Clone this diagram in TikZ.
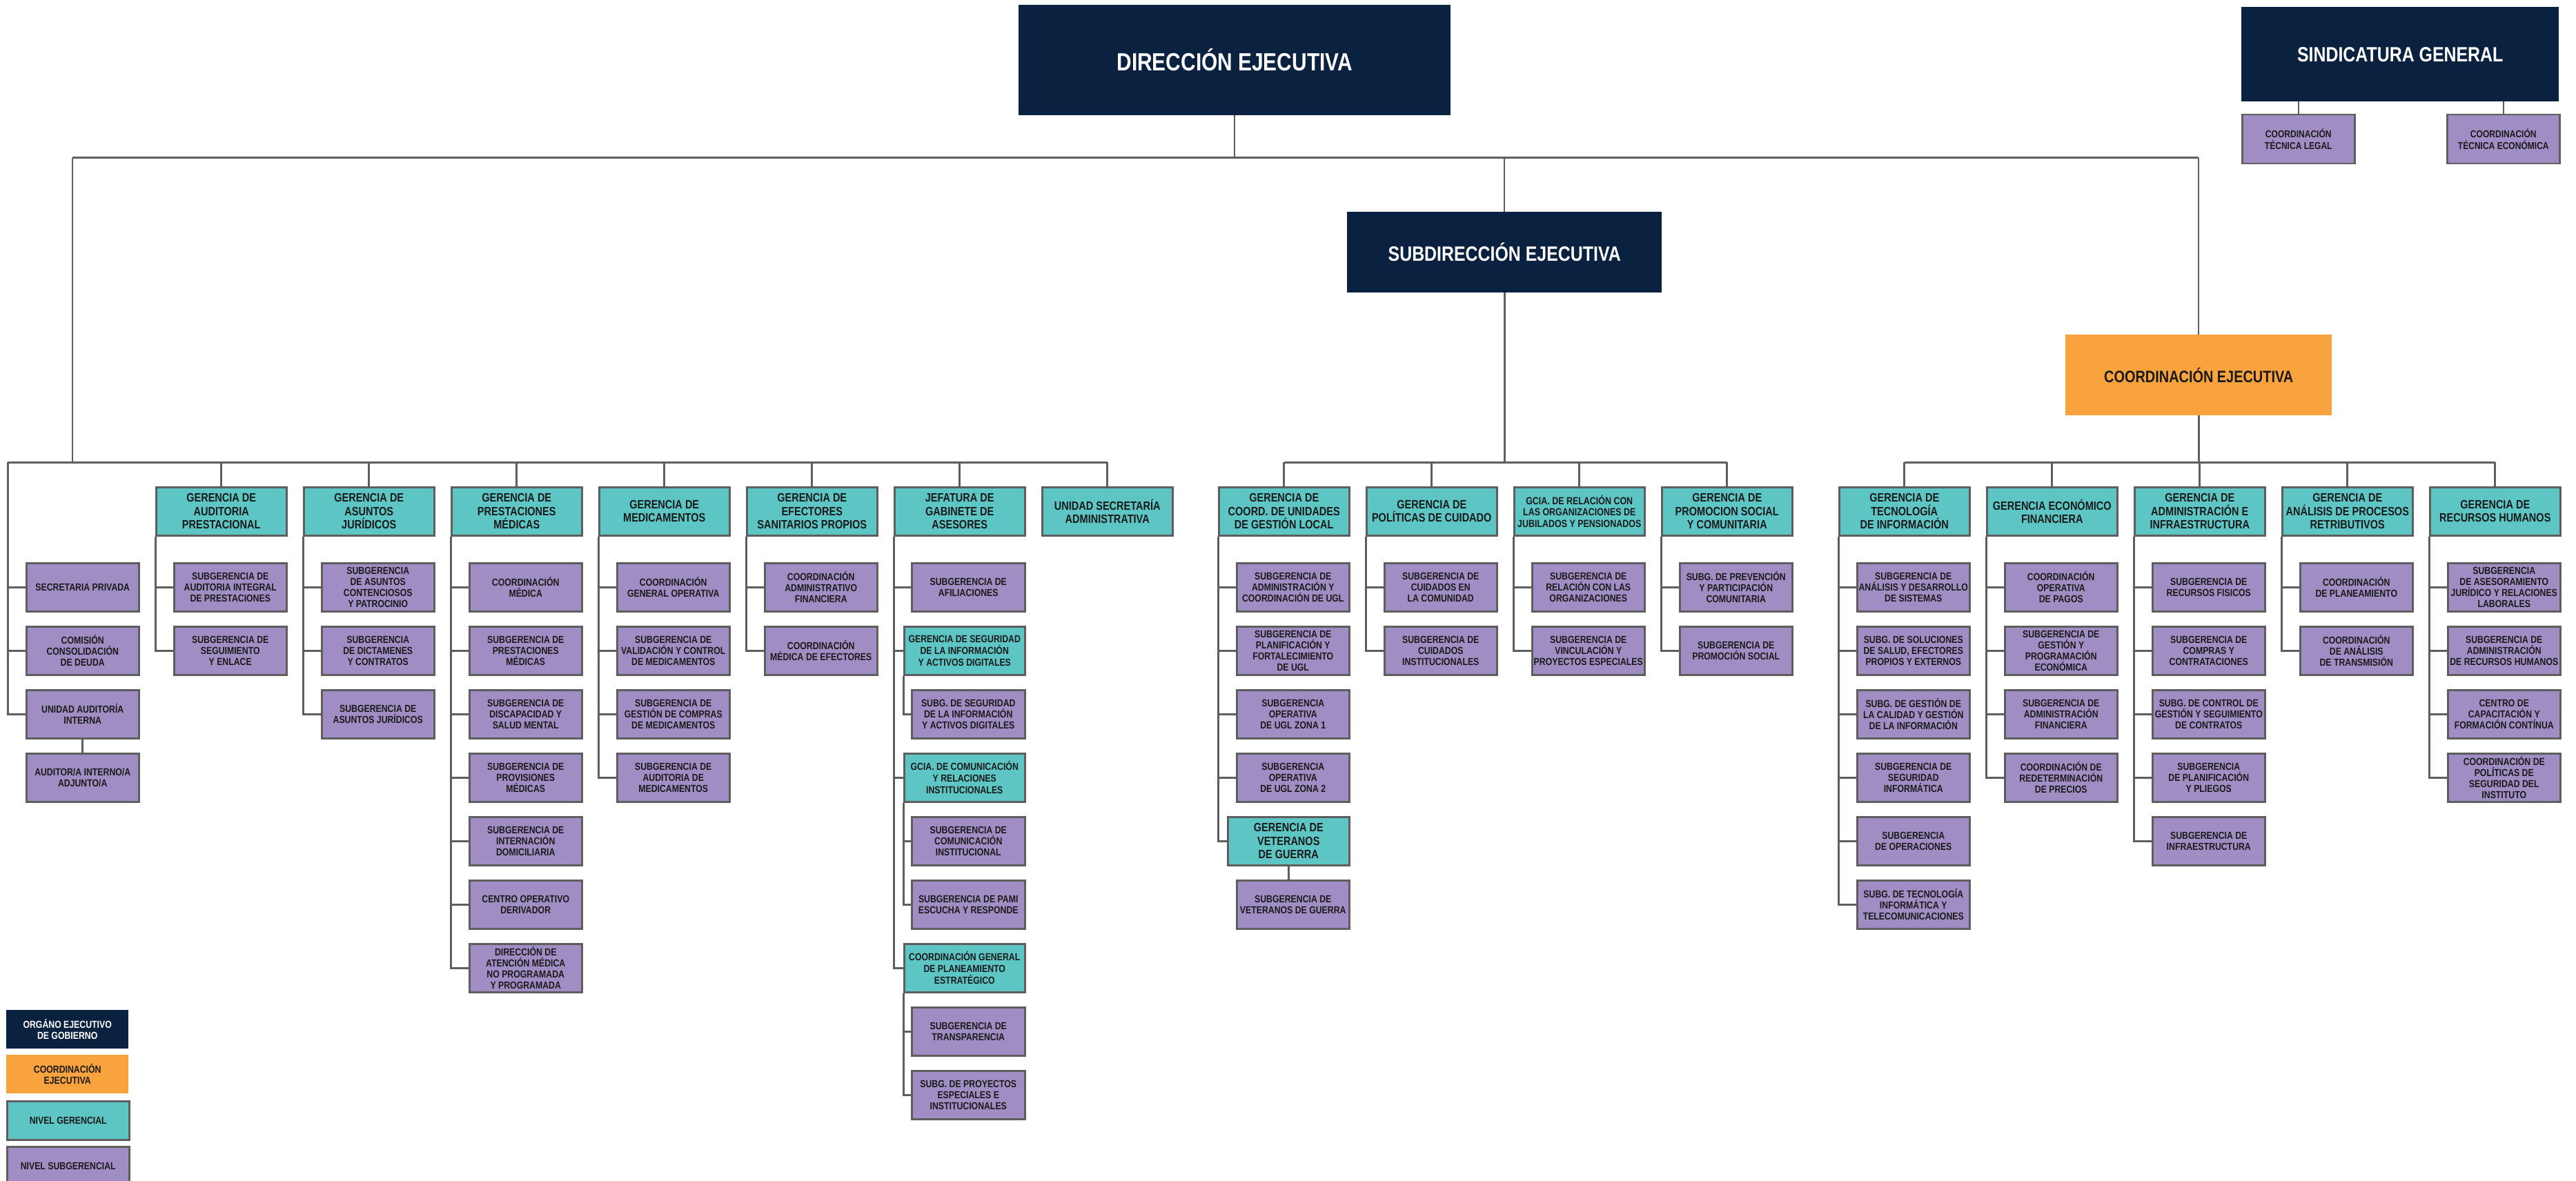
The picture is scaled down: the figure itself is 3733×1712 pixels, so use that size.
\documentclass[tikz,border=0pt]{standalone}
\usepackage{fontspec}
\setmainfont{Liberation Sans}[FakeStretch=0.83]
\definecolor{navy}{HTML}{0B2140}
\definecolor{tealc}{HTML}{5DC5C4}
\definecolor{purp}{HTML}{A08DC4}
\definecolor{orng}{HTML}{F8A33E}
\definecolor{lgray}{HTML}{5E5E5E}
\definecolor{txt}{HTML}{1A1A1A}
\newcommand\fSub{\fontsize{14.8}{16}\selectfont\bfseries}
\newcommand\fTsub{\fontsize{14.8}{17}\selectfont\bfseries}
\newcommand\fHdr{\fontsize{17.5}{19.3}\selectfont\bfseries}
\newcommand\fJub{\fontsize{15}{16.4}\selectfont\bfseries}
\newcommand\fDE{\fontsize{36}{40}\selectfont\bfseries}
\newcommand\fSD{\fontsize{30}{34}\selectfont\bfseries}
\newcommand\fCE{\fontsize{24}{28}\selectfont\bfseries}
\newcommand\fCT{\fontsize{14.5}{17}\selectfont\bfseries}
\tikzset{
  base/.style={anchor=north west, align=center, inner sep=0pt, text=txt},
  hdr/.style={base, draw=lgray, line width=2.5pt, fill=tealc, minimum width=189pt, minimum height=70pt, font=\fHdr},
  sub/.style={base, draw=lgray, line width=2.5pt, fill=purp, minimum width=163pt, minimum height=70pt, font=\fSub},
  tsub/.style={base, draw=lgray, line width=2.5pt, fill=tealc, minimum width=175pt, minimum height=70pt, font=\fTsub},
  exec/.style={base, fill=navy, text=white},
  conn/.style={draw=lgray, line width=3pt},
  thin/.style={draw=lgray, line width=2pt},
}
\begin{document}
\begin{tikzpicture}[x=1pt,y=-1pt]
\useasboundingbox[fill=white] (0,0) rectangle (3733,1712);

% ---------- top level ----------
\node[exec, minimum width=626pt, minimum height=160pt, font=\fDE] (DE) at (1476,7) {DIRECCIÓN EJECUTIVA};
\node[exec, minimum width=460pt, minimum height=137pt, font=\fSD] (SIN) at (3248,10) {SINDICATURA GENERAL};
\node[sub, minimum width=163pt, minimum height=71pt, font=\fCT] (CTL) at (3248,165) {COORDINACIÓN\\TÉCNICA LEGAL};
\node[sub, minimum width=163pt, minimum height=71pt, font=\fCT] (CTE) at (3545,165) {COORDINACIÓN\\TÉCNICA ECONÓMICA};
\node[exec, minimum width=456pt, minimum height=117pt, font=\fSD] (SD) at (1952,307) {SUBDIRECCIÓN EJECUTIVA};
\node[base, fill=orng, minimum width=386pt, minimum height=117pt, font=\fCE] (CE) at (2993,485) {COORDINACIÓN EJECUTIVA};

% ---------- column 0 ----------
\node[sub] (c01) at (37,815) {SECRETARIA PRIVADA};
\node[sub] (c02) at (37,907) {COMISIÓN\\CONSOLIDACIÓN\\DE DEUDA};
\node[sub] (c03) at (37,999) {UNIDAD AUDITORÍA\\INTERNA};
\node[sub] (c04) at (37,1091) {AUDITOR/A INTERNO/A\\ADJUNTO/A};

% ---------- DE gerencias ----------
\node[hdr] (hAud) at (225,705) {GERENCIA DE\\AUDITORIA\\PRESTACIONAL};
\node[sub] (aud1) at (251,815) {SUBGERENCIA DE\\AUDITORIA INTEGRAL\\DE PRESTACIONES};
\node[sub] (aud2) at (251,907) {SUBGERENCIA DE\\SEGUIMIENTO\\Y ENLACE};

\node[hdr] (hJur) at (439,705) {GERENCIA DE\\ASUNTOS\\JURÍDICOS};
\node[sub] (jur1) at (465,815) {SUBGERENCIA\\DE ASUNTOS\\CONTENCIOSOS\\Y PATROCINIO};
\node[sub] (jur2) at (465,907) {SUBGERENCIA\\DE DICTAMENES\\Y CONTRATOS};
\node[sub] (jur3) at (465,999) {SUBGERENCIA DE\\ASUNTOS JURÍDICOS};

\node[hdr] (hPre) at (653,705) {GERENCIA DE\\PRESTACIONES\\MÉDICAS};
\node[sub] (pre1) at (679,815) {COORDINACIÓN\\MÉDICA};
\node[sub] (pre2) at (679,907) {SUBGERENCIA DE\\PRESTACIONES\\MÉDICAS};
\node[sub] (pre3) at (679,999) {SUBGERENCIA DE\\DISCAPACIDAD Y\\SALUD MENTAL};
\node[sub] (pre4) at (679,1091) {SUBGERENCIA DE\\PROVISIONES\\MÉDICAS};
\node[sub] (pre5) at (679,1183) {SUBGERENCIA DE\\INTERNACIÓN\\DOMICILIARIA};
\node[sub] (pre6) at (679,1275) {CENTRO OPERATIVO\\DERIVADOR};
\node[sub] (pre7) at (679,1367) {DIRECCIÓN DE\\ATENCIÓN MÉDICA\\NO PROGRAMADA\\Y PROGRAMADA};

\node[hdr] (hMed) at (867,705) {GERENCIA DE\\MEDICAMENTOS};
\node[sub] (med1) at (893,815) {COORDINACIÓN\\GENERAL OPERATIVA};
\node[sub] (med2) at (893,907) {SUBGERENCIA DE\\VALIDACIÓN Y CONTROL\\DE MEDICAMENTOS};
\node[sub] (med3) at (893,999) {SUBGERENCIA DE\\GESTIÓN DE COMPRAS\\DE MEDICAMENTOS};
\node[sub] (med4) at (893,1091) {SUBGERENCIA DE\\AUDITORIA DE\\MEDICAMENTOS};

\node[hdr] (hEfe) at (1081,705) {GERENCIA DE\\EFECTORES\\SANITARIOS PROPIOS};
\node[sub] (efe1) at (1107,815) {COORDINACIÓN\\ADMINISTRATIVO\\FINANCIERA};
\node[sub] (efe2) at (1107,907) {COORDINACIÓN\\MÉDICA DE EFECTORES};

\node[hdr] (hJef) at (1295,705) {JEFATURA DE\\GABINETE DE\\ASESORES};
\node[sub, minimum width=164pt] (jef1) at (1320,815) {SUBGERENCIA DE\\AFILIACIONES};
\node[tsub] (tSeg) at (1309,907) {GERENCIA DE SEGURIDAD\\DE LA INFORMACIÓN\\Y ACTIVOS DIGITALES};
\node[sub, minimum width=164pt] (seg1) at (1320,999) {SUBG. DE SEGURIDAD\\DE LA INFORMACIÓN\\Y ACTIVOS DIGITALES};
\node[tsub] (tCom) at (1309,1091) {GCIA. DE COMUNICACIÓN\\Y RELACIONES\\INSTITUCIONALES};
\node[sub, minimum width=164pt] (com1) at (1320,1183) {SUBGERENCIA DE\\COMUNICACIÓN\\INSTITUCIONAL};
\node[sub, minimum width=164pt] (com2) at (1320,1275) {SUBGERENCIA DE PAMI\\ESCUCHA Y RESPONDE};
\node[tsub] (tPla) at (1309,1367) {COORDINACIÓN GENERAL\\DE PLANEAMIENTO\\ESTRATÉGICO};
\node[sub, minimum width=164pt] (pla1) at (1320,1459) {SUBGERENCIA DE\\TRANSPARENCIA};
\node[sub, minimum width=164pt] (pla2) at (1320,1551) {SUBG. DE PROYECTOS\\ESPECIALES E\\INSTITUCIONALES};

\node[hdr] (hUni) at (1509,705) {UNIDAD SECRETARÍA\\ADMINISTRATIVA};

% ---------- SD gerencias ----------
\node[hdr] (hCU) at (1765,705) {GERENCIA DE\\COORD. DE UNIDADES\\DE GESTIÓN LOCAL};
\node[sub] (cu1) at (1791,815) {SUBGERENCIA DE\\ADMINISTRACIÓN Y\\COORDINACIÓN DE UGL};
\node[sub] (cu2) at (1791,907) {SUBGERENCIA DE\\PLANIFICACIÓN Y\\FORTALECIMIENTO\\DE UGL};
\node[sub] (cu3) at (1791,999) {SUBGERENCIA\\OPERATIVA\\DE UGL ZONA 1};
\node[sub] (cu4) at (1791,1091) {SUBGERENCIA\\OPERATIVA\\DE UGL ZONA 2};
\node[hdr, minimum width=176pt] (tVet) at (1778,1183) {GERENCIA DE\\VETERANOS\\DE GUERRA};
\node[sub] (vet1) at (1791,1275) {SUBGERENCIA DE\\VETERANOS DE GUERRA};

\node[hdr] (hPC) at (1979,705) {GERENCIA DE\\POLÍTICAS DE CUIDADO};
\node[sub] (pc1) at (2005,815) {SUBGERENCIA DE\\CUIDADOS EN\\LA COMUNIDAD};
\node[sub] (pc2) at (2005,907) {SUBGERENCIA DE\\CUIDADOS\\INSTITUCIONALES};

\node[hdr, font=\fJub] (hJP) at (2193,705) {GCIA. DE RELACIÓN CON\\LAS ORGANIZACIONES DE\\JUBILADOS Y PENSIONADOS};
\node[sub] (jp1) at (2219,815) {SUBGERENCIA DE\\RELACIÓN CON LAS\\ORGANIZACIONES};
\node[sub] (jp2) at (2219,907) {SUBGERENCIA DE\\VINCULACIÓN Y\\PROYECTOS ESPECIALES};

\node[hdr] (hPS) at (2407,705) {GERENCIA DE\\PROMOCION SOCIAL\\Y COMUNITARIA};
\node[sub] (ps1) at (2433,815) {SUBG. DE PREVENCIÓN\\Y PARTICIPACIÓN\\COMUNITARIA};
\node[sub] (ps2) at (2433,907) {SUBGERENCIA DE\\PROMOCIÓN SOCIAL};

% ---------- CE gerencias ----------
\node[hdr] (hTec) at (2664,705) {GERENCIA DE\\TECNOLOGÍA\\DE INFORMACIÓN};
\node[sub] (tec1) at (2690,815) {SUBGERENCIA DE\\ANÁLISIS Y DESARROLLO\\DE SISTEMAS};
\node[sub] (tec2) at (2690,907) {SUBG. DE SOLUCIONES\\DE SALUD, EFECTORES\\PROPIOS Y EXTERNOS};
\node[sub] (tec3) at (2690,999) {SUBG. DE GESTIÓN DE\\LA CALIDAD Y GESTIÓN\\DE LA INFORMACIÓN};
\node[sub] (tec4) at (2690,1091) {SUBGERENCIA DE\\SEGURIDAD\\INFORMÁTICA};
\node[sub] (tec5) at (2690,1183) {SUBGERENCIA\\DE OPERACIONES};
\node[sub] (tec6) at (2690,1275) {SUBG. DE TECNOLOGÍA\\INFORMÁTICA Y\\TELECOMUNICACIONES};

\node[hdr] (hEco) at (2878,705) {GERENCIA ECONÓMICO\\FINANCIERA};
\node[sub] (eco1) at (2904,815) {COORDINACIÓN\\OPERATIVA\\DE PAGOS};
\node[sub] (eco2) at (2904,907) {SUBGERENCIA DE\\GESTIÓN Y\\PROGRAMACIÓN\\ECONÓMICA};
\node[sub] (eco3) at (2904,999) {SUBGERENCIA DE\\ADMINISTRACIÓN\\FINANCIERA};
\node[sub] (eco4) at (2904,1091) {COORDINACIÓN DE\\REDETERMINACIÓN\\DE PRECIOS};

\node[hdr] (hAdm) at (3092,705) {GERENCIA DE\\ADMINISTRACIÓN E\\INFRAESTRUCTURA};
\node[sub] (adm1) at (3118,815) {SUBGERENCIA DE\\RECURSOS FISICOS};
\node[sub] (adm2) at (3118,907) {SUBGERENCIA DE\\COMPRAS Y\\CONTRATACIONES};
\node[sub] (adm3) at (3118,999) {SUBG. DE CONTROL DE\\GESTIÓN Y SEGUIMIENTO\\DE CONTRATOS};
\node[sub] (adm4) at (3118,1091) {SUBGERENCIA\\DE PLANIFICACIÓN\\Y PLIEGOS};
\node[sub] (adm5) at (3118,1183) {SUBGERENCIA DE\\INFRAESTRUCTURA};

\node[hdr] (hAna) at (3306,705) {GERENCIA DE\\ANÁLISIS DE PROCESOS\\RETRIBUTIVOS};
\node[sub] (ana1) at (3332,815) {COORDINACIÓN\\DE PLANEAMIENTO};
\node[sub] (ana2) at (3332,907) {COORDINACIÓN\\DE ANÁLISIS\\DE TRANSMISIÓN};

\node[hdr] (hRH) at (3520,705) {GERENCIA DE\\RECURSOS HUMANOS};
\node[sub] (rh1) at (3546,815) {SUBGERENCIA\\DE ASESORAMIENTO\\JURÍDICO Y RELACIONES\\LABORALES};
\node[sub] (rh2) at (3546,907) {SUBGERENCIA DE\\ADMINISTRACIÓN\\DE RECURSOS HUMANOS};
\node[sub] (rh3) at (3546,999) {CENTRO DE\\CAPACITACIÓN Y\\FORMACIÓN CONTÍNUA};
\node[sub] (rh4) at (3546,1091) {COORDINACIÓN DE\\POLÍTICAS DE\\SEGURIDAD DEL\\INSTITUTO};

% ---------- legend ----------
\node[exec, minimum width=177pt, minimum height=56pt, font=\fSub] (lg1) at (9,1464) {ORGÁNO EJECUTIVO\\DE GOBIERNO};
\node[base, fill=orng, minimum width=177pt, minimum height=56pt, font=\fSub] (lg2) at (9,1529) {COORDINACIÓN\\EJECUTIVA};
\node[sub, minimum width=177pt, minimum height=56pt, fill=tealc] (lg3) at (9,1595) {NIVEL GERENCIAL};
\node[sub, minimum width=177pt, minimum height=56pt] (lg4) at (9,1661) {NIVEL SUBGERENCIAL};

% ---------- buses ----------
\coordinate (busTL) at (105,229);
\coordinate (busTR) at (CE.north |- busTL);
\coordinate (busL) at (11,670);

\draw[conn] (busTL) -- (busTR);
\draw[thin] (DE.south) -- (DE.south |- busTL);
\draw[thin] (busTL) -- (busTL |- busL);
\draw[thin] (SD.north |- busTL) -- (SD.north);
\draw[thin] (busTR) -- (CE.north);
\draw[thin] (CTL.north |- SIN.south) -- (CTL.north);
\draw[thin] (CTE.north |- SIN.south) -- (CTE.north);

% DE bus
\draw[conn] (busL) -- (hUni.north |- busL);
\foreach \h in {hAud,hJur,hPre,hMed,hEfe,hJef,hUni}
  \draw[conn] (\h.north |- busL) -- (\h.north);
\foreach \s in {c01,c02,c03}
  \draw[conn] (busL) |- (\s.west);
\draw[conn] (c03.south) -- (c04.north);

% SD bus
\draw[conn] (SD.south) -- (SD.south |- busL);
\draw[conn] (hCU.north |- busL) -- (hPS.north |- busL);
\foreach \h in {hCU,hPC,hJP,hPS}
  \draw[conn] (\h.north |- busL) -- (\h.north);

% CE bus
\draw[conn] (CE.south) -- (CE.south |- busL);
\draw[conn] (hTec.north |- busL) -- (hRH.north |- busL);
\foreach \h in {hTec,hEco,hAdm,hAna,hRH}
  \draw[conn] (\h.north |- busL) -- (\h.north);

% column branches
\foreach \h/\s in {hAud/aud1,hAud/aud2,
  hJur/jur1,hJur/jur2,hJur/jur3,
  hPre/pre1,hPre/pre2,hPre/pre3,hPre/pre4,hPre/pre5,hPre/pre6,hPre/pre7,
  hMed/med1,hMed/med2,hMed/med3,hMed/med4,
  hEfe/efe1,hEfe/efe2,
  hJef/jef1,hJef/tSeg,hJef/tCom,hJef/tPla,
  tSeg/seg1,tCom/com1,tCom/com2,tPla/pla1,tPla/pla2,
  hCU/cu1,hCU/cu2,hCU/cu3,hCU/cu4,hCU/tVet,
  hPC/pc1,hPC/pc2,hJP/jp1,hJP/jp2,hPS/ps1,hPS/ps2,
  hTec/tec1,hTec/tec2,hTec/tec3,hTec/tec4,hTec/tec5,hTec/tec6,
  hEco/eco1,hEco/eco2,hEco/eco3,hEco/eco4,
  hAdm/adm1,hAdm/adm2,hAdm/adm3,hAdm/adm4,hAdm/adm5,
  hAna/ana1,hAna/ana2,
  hRH/rh1,hRH/rh2,hRH/rh3,hRH/rh4}
  \draw[conn] (\h.south west) |- (\s.west);
\draw[conn] (tVet.south) -- (tVet.south |- vet1.north);
\end{tikzpicture}
\end{document}
